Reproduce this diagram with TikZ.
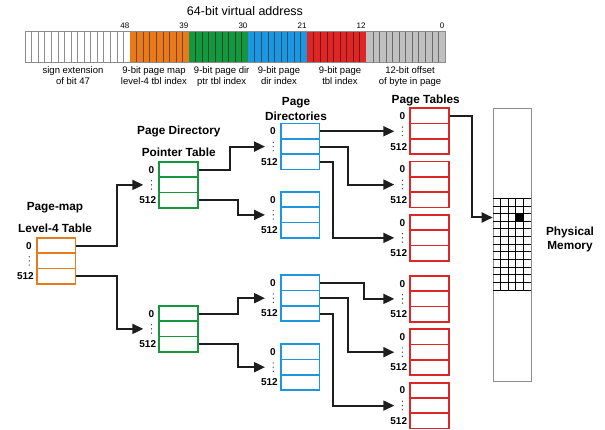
\documentclass[tikz,border=0pt]{standalone}
\usepackage{fontspec}
\setmainfont{Liberation Sans}
\usetikzlibrary{arrows.meta,calc}
\definecolor{cOr}{RGB}{232,122,30}
\definecolor{cGr}{RGB}{22,150,62}
\definecolor{cBl}{RGB}{30,150,222}
\definecolor{cRd}{RGB}{222,38,38}
\definecolor{cGy}{RGB}{192,192,192}
\definecolor{cAr}{RGB}{30,30,30}
\definecolor{cMem}{RGB}{140,140,140}
\newcommand\ptab[4]{%
  \foreach \i in {1,2,3}{%
    \node[cell,draw=#2,anchor=north west] (#1-\i) at (#3,{#4+(\i-1)*15.33}) {};
  }
  \node[num,anchor=east] (#1-n0) at ($(#1-1.west)+(-4,0)$) {0};
  \node[num,anchor=east] (#1-n5) at ($(#1-3.west)+(-2,0)$) {512};
  \foreach \k in {-4.2,0,4.2}{\fill[cAr!85] ($(#1-2.west)+(-6.8,\k)$) circle (0.7);}
  \coordinate (#1-in) at ($(#1-2.west)+(-15,0)$);
}
\begin{document}
\begin{tikzpicture}[x=1pt,y=-1pt,
  cell/.style={rectangle,minimum width=38.5pt,minimum height=15.33pt,inner sep=0pt,line width=1.8pt},
  num/.style={font=\bfseries\fontsize{10}{12}\selectfont,inner sep=0pt},
  ttl/.style={font=\fontsize{12.5}{14}\selectfont,inner sep=0pt,anchor=base},
  bitno/.style={font=\fontsize{8}{9}\selectfont,inner sep=0pt,anchor=base east},
  fld/.style={font=\fontsize{9.5}{11}\selectfont,align=center,inner sep=0pt,anchor=north},
  lbl/.style={font=\bfseries\fontsize{11.8}{14}\selectfont,inner sep=0pt,anchor=base},
  arr/.style={draw=cAr,line width=2pt,-{Triangle[length=11pt,width=10pt]}}]
\useasboundingbox (0,0) rectangle (605,430);
% address bar
\node[ttl] (title) at (245,15.5) {64-bit virtual address};
\foreach \s/\n/\c in {0/16/white,16/9/cOr,25/9/cGr,34/9/cBl,43/9/cRd,52/12/cGy}{
  \fill[\c] ({25+\s*6.5625},31) rectangle ({25+(\s+\n)*6.5625},61.7);
  \foreach \k in {1,...,\n}{\draw[\c!55!black,line width=0.6pt] ({25+(\s+\k)*6.5625},31) -- ++(0,30.7);}
}
\node[draw=cMem,line width=0.8pt,minimum width=420pt,minimum height=30.7pt,inner sep=0pt,anchor=north west] (addr) at (25,31) {};
\foreach \v/\b in {48/16,39/25,30/34,21/43,12/52,0/64}{
  \node[bitno] (bn\v) at ({25+\b*6.5625-0.5},28.6) {\v};
}
\node[fld] (f1) at (73,66.3) {sign extension\\of bit 47};
\node[fld] (f2) at (154,66.3) {9-bit page map\\level-4 tbl index};
\node[fld] (f3) at (221.7,66.3) {9-bit page dir\\ptr tbl index};
\node[fld] (f4) at (279,66.3) {9-bit page\\dir index};
\node[fld] (f5) at (340,66.3) {9-bit page\\tbl index};
\node[fld] (f6) at (410,66.3) {12-bit offset\\of byte in page};
% labels
\node[lbl] (lpt) at (425.7,103.2) {Page Tables};
\node[lbl] (lpd1) at (296,105.9) {Page};
\node[lbl] (lpd2) at (296,120.2) {Directories};
\node[lbl] (lpp1) at (178.8,134.9) {Page Directory};
\node[lbl] (lpp2) at (178.7,156.9) {Pointer Table};
\node[lbl] (lpm1) at (55,210.9) {Page-map};
\node[lbl] (lpm2) at (55,232.2) {Level-4 Table};
\node[lbl] (lmem1) at (570,235.2) {Physical};
\node[lbl] (lmem2) at (570,249.9) {Memory};
% tables
\ptab{O}{cOr}{36}{237}
\ptab{G1}{cGr}{158.3}{161}
\ptab{G2}{cGr}{158.3}{305}
\ptab{B1}{cBl}{280}{122.7}
\ptab{B2}{cBl}{280}{191}
\ptab{B3}{cBl}{280}{274.3}
\ptab{B4}{cBl}{280}{343.3}
\ptab{R1}{cRd}{409.3}{107.37}
\ptab{R2}{cRd}{409.3}{160.7}
\ptab{R3}{cRd}{409.3}{214}
\ptab{R4}{cRd}{409.3}{275}
\ptab{R5}{cRd}{409.3}{328.3}
\ptab{R6}{cRd}{409.3}{381.7}
% physical memory
\node[draw=cMem,line width=1.2pt,minimum width=38.3pt,minimum height=273.3pt,inner sep=0pt,anchor=north west] (mem) at (492.7,107.7) {};
\fill[black] ({492.7+3*7.66},{198.3+2*7.64}) rectangle ++(7.66,7.64);
\foreach \j in {0,...,12}{\draw[black,line width=0.8pt] (492.7,{198.3+\j*7.64}) -- ++(38.3,0);}
\foreach \k in {1,...,4}{\draw[black,line width=0.8pt] ({492.7+\k*7.66},198.3) -- ({492.7+\k*7.66},290);}
\coordinate (memin) at (492.7,217.5);
% connectors
\draw[arr] (O-1.east) -| ($(G1-in)+(-26.6,0)$) -- (G1-in);
\draw[arr] (O-3.east) -| ($(G2-in)+(-26.6,0)$) -- (G2-in);
\draw[arr] (G1-1.east) -| ($(B1-in)+(-35,0)$) -- (B1-in);
\draw[arr] (G1-3.east) -| ($(B2-in)+(-27.3,0)$) -- (B2-in);
\draw[arr] (G2-1.east) -| ($(B3-in)+(-27.3,0)$) -- (B3-in);
\draw[arr] (G2-3.east) -| ($(B4-in)+(-27.3,0)$) -- (B4-in);
\draw[arr] (B1-1.east) -- (R1-in);
\draw[arr] (B1-2.east) -| ($(R2-in)+(-46,0)$) -- (R2-in);
\draw[arr] (B1-3.east) -| ($(R3-in)+(-61.6,0)$) -- (R3-in);
\draw[arr] (B3-1.east) -| ($(R4-in)+(-30.3,0)$) -- (R4-in);
\draw[arr] (B3-2.east) -| ($(R5-in)+(-46,0)$) -- (R5-in);
\draw[arr] (B3-3.east) -| ($(R6-in)+(-61.6,0)$) -- (R6-in);
\draw[arr] (R1-1.east) -| ($(memin)+(-20.4,0)$) -- (memin);
\end{tikzpicture}
\end{document}
